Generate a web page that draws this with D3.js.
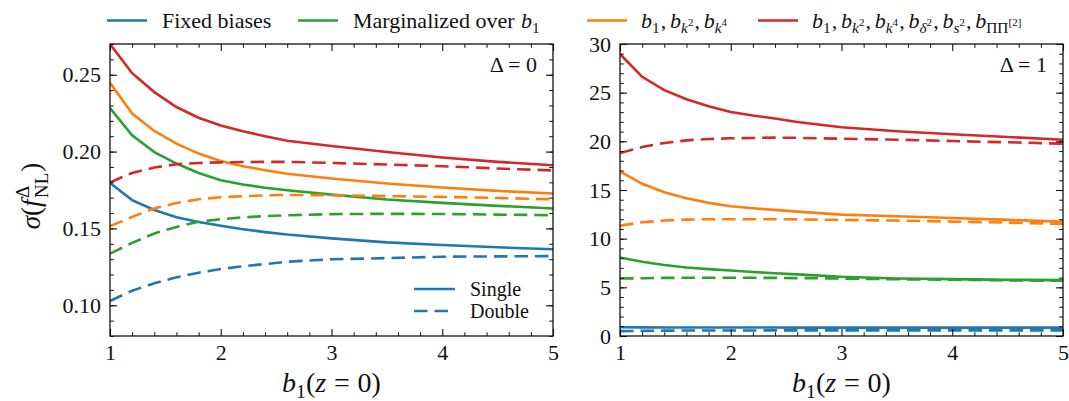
<!DOCTYPE html>
<html>
<head>
<meta charset="utf-8">
<script src="https://cdn.jsdelivr.net/npm/d3@7"></script>
<style>
  body { margin: 0; background: #fff; }
  svg { display: block; }
  svg text { font-family: "Liberation Serif", "DejaVu Serif", "Times New Roman", Times, serif; fill: #111; white-space: pre; }
</style>
</head>
<body>
<div id="chart"></div>
<script>
// b1(z=0) sample points
const b1 = [1, 1.2, 1.4, 1.6, 1.8, 2.0, 2.2, 2.4, 2.6, 3, 3.5, 4, 4.5, 5];

// Delta = 0 panel
const d0FixedSingle   = [0.1796, 0.1684, 0.1620, 0.1572, 0.1542, 0.1517, 0.1495, 0.1476, 0.1460, 0.1435, 0.1409, 0.1392, 0.1377, 0.1364];
const d0FixedDouble   = [0.1028, 0.1095, 0.1143, 0.1182, 0.1212, 0.1236, 0.1254, 0.1268, 0.1283, 0.1299, 0.1307, 0.1316, 0.1318, 0.1320];
const d0MargSingle    = [0.2283, 0.2106, 0.1997, 0.1922, 0.1861, 0.1814, 0.1786, 0.1765, 0.1748, 0.1720, 0.1688, 0.1666, 0.1647, 0.1630];
const d0MargDouble    = [0.1336, 0.1406, 0.1467, 0.1510, 0.1543, 0.1560, 0.1572, 0.1580, 0.1586, 0.1593, 0.1595, 0.1594, 0.1590, 0.1586];
const d0K4Single      = [0.2448, 0.2247, 0.2134, 0.2052, 0.1987, 0.1939, 0.1905, 0.1879, 0.1856, 0.1825, 0.1792, 0.1766, 0.1744, 0.1727];
const d0K4Double      = [0.1515, 0.1575, 0.1630, 0.1665, 0.1690, 0.1703, 0.1710, 0.1715, 0.1718, 0.1716, 0.1710, 0.1705, 0.1698, 0.1690];
const d0AllSingle     = [0.2700, 0.2510, 0.2387, 0.2290, 0.2220, 0.2170, 0.2132, 0.2100, 0.2070, 0.2036, 0.1997, 0.1961, 0.1933, 0.1911];
const d0AllDouble     = [0.1800, 0.1861, 0.1896, 0.1918, 0.1926, 0.1930, 0.1932, 0.1933, 0.1933, 0.1926, 0.1916, 0.1905, 0.1890, 0.1877];

// Delta = 1 panel
const d1FixedSingle   = [0.90, 0.89, 0.88, 0.88, 0.87, 0.87, 0.87, 0.87, 0.86, 0.86, 0.86, 0.86, 0.86, 0.86];
const d1FixedDouble   = [0.50, 0.53, 0.55, 0.56, 0.57, 0.57, 0.57, 0.58, 0.58, 0.58, 0.58, 0.58, 0.58, 0.58];
const d1MargSingle    = [8.07, 7.63, 7.29, 7.04, 6.87, 6.73, 6.58, 6.45, 6.33, 6.08, 5.91, 5.84, 5.77, 5.74];
const d1MargDouble    = [5.90, 5.94, 5.97, 5.98, 5.98, 5.98, 5.98, 5.97, 5.95, 5.90, 5.83, 5.78, 5.72, 5.67];
const d1K4Single      = [16.91, 15.64, 14.77, 14.15, 13.68, 13.33, 13.12, 12.96, 12.78, 12.47, 12.30, 12.13, 11.93, 11.75];
const d1K4Double      = [11.34, 11.68, 11.86, 11.96, 12.00, 12.00, 12.00, 12.00, 11.98, 11.93, 11.86, 11.75, 11.65, 11.52];
const d1AllSingle     = [28.97, 26.63, 25.26, 24.33, 23.60, 23.02, 22.65, 22.34, 21.99, 21.45, 21.03, 20.72, 20.45, 20.17];
const d1AllDouble     = [18.80, 19.41, 19.83, 20.10, 20.24, 20.31, 20.35, 20.38, 20.36, 20.27, 20.17, 20.03, 19.90, 19.76];

const xTicks = [1, 2, 3, 4, 5];
const leftYTicks = [0.10, 0.15, 0.20, 0.25];
const rightYTicks = [0, 5, 10, 15, 20, 25, 30];

const colors = { fixed: "#1f77b4", marg: "#2ca02c", k4: "#ff7f0e", all: "#d62728" };
const SERIF = '"Liberation Serif", "DejaVu Serif", "Times New Roman", Times, serif';
const DASH = "13.5,7";

const W = 1069, H = 401;
const svg = d3.select("#chart").append("svg").attr("width", W).attr("height", H)
  .attr("font-family", SERIF);

// draws a little math-like label out of pieces
function drawMath(parent, x, y, parts, size, anchor) {
  const g = parent.append("g");
  let cx = 0, lastStart = 0;
  parts.forEach(p => {
    const sc = p.sc || 1;
    const start = p.over ? lastStart : cx + (p.gap || 0) * size;
    const t = g.append("text")
      .attr("x", start)
      .attr("y", (p.dy || 0) * size)
      .attr("font-family", SERIF)
      .style("font-size", (size * sc) + "px")
      .style("font-style", p.it ? "italic" : "normal")
      .text(p.t);
    const w = t.node().getComputedTextLength();
    cx = p.over ? Math.max(cx, start + w) : start + w;
    lastStart = start;
  });
  let shift = 0;
  if (anchor === "middle") shift = -cx / 2;
  if (anchor === "end") shift = -cx;
  g.attr("transform", `translate(${x + shift},${y})`);
  return g;
}

const SUB = { sc: 0.7, dy: 0.22 };
const SUBSUP = { sc: 0.5, dy: -0.08 };

function panel(opts) {
  const { left, right, top, bottom, yDomain, yTicks, yMinorStep, fmt, series, label } = opts;
  const x = d3.scaleLinear().domain([1, 5]).range([left, right]);
  const y = d3.scaleLinear().domain(yDomain).range([bottom, top]);
  const g = svg.append("g");

  const clipId = "clip" + left;
  g.append("clipPath").attr("id", clipId)
    .append("rect").attr("x", left).attr("y", top).attr("width", right - left).attr("height", bottom - top);

  const line = d3.line().x((d, i) => x(b1[i])).y(d => y(d));
  series.forEach(s => {
    g.append("path")
      .attr("clip-path", `url(#${clipId})`)
      .attr("d", line(s.values))
      .attr("fill", "none")
      .attr("stroke", s.color)
      .attr("stroke-width", 2.6)
      .attr("stroke-dasharray", s.dashed ? DASH : null);
  });

  const xMinor = d3.range(1, 5.001, 0.2).filter(v => Math.abs(v - Math.round(v)) > 1e-6);
  const yMinor = d3.range(yDomain[0], yDomain[1] + 1e-9, yMinorStep);

  const axes = [
    { make: () => d3.axisBottom(x), tr: `translate(0,${bottom})`, major: xTicks, minor: xMinor, labels: d3.format("d"), pad: 8.5 },
    { make: () => d3.axisTop(x), tr: `translate(0,${top})`, major: xTicks, minor: xMinor, labels: null },
    { make: () => d3.axisLeft(y), tr: `translate(${left},0)`, major: yTicks, minor: yMinor, labels: fmt, pad: 9 },
    { make: () => d3.axisRight(y), tr: `translate(${right},0)`, major: yTicks, minor: yMinor, labels: null }
  ];
  axes.forEach(a => {
    const major = g.append("g").attr("transform", a.tr)
      .call(a.make().tickValues(a.major).tickSize(-7).tickPadding(a.pad || 3)
        .tickFormat(a.labels || (() => "")));
    major.attr("font-family", SERIF).attr("font-size", 22);
    major.select(".domain").remove();
    major.selectAll("line").attr("stroke", "#111").attr("stroke-width", 1.1);
    major.selectAll("text").attr("fill", "#111").attr("font-family", SERIF).style("font-size", "22px");
    const mg = g.append("g").attr("transform", a.tr)
      .call(a.make().tickValues(a.minor).tickSize(-3.8).tickFormat(() => ""));
    mg.select(".domain").remove();
    mg.selectAll("line").attr("stroke", "#111").attr("stroke-width", 1);
  });

  g.append("rect").attr("x", left).attr("y", top).attr("width", right - left).attr("height", bottom - top)
    .attr("fill", "none").attr("stroke", "#111").attr("stroke-width", 1.3);

  // panel annotation
  g.append("text").attr("x", right - 16).attr("y", top + 28).attr("text-anchor", "end")
    .attr("font-family", SERIF).style("font-size", "22px").text(label);

  // x label
  drawMath(g, (left + right) / 2, 392, [
    { t: "b", it: true }, { t: "1", ...SUB }, { t: "(" }, { t: "z", it: true },
    { t: "=", gap: 0.28 }, { t: "0)", gap: 0.28 }
  ], 28, "middle");
  return { x, y };
}

panel({
  left: 110, right: 553, top: 44, bottom: 336,
  yDomain: [0.08, 0.27], yTicks: leftYTicks, yMinorStep: 0.01, fmt: d3.format(".2f"),
  label: "Δ = 0",
  series: [
    { color: colors.fixed, dashed: false, values: d0FixedSingle },
    { color: colors.fixed, dashed: true, values: d0FixedDouble },
    { color: colors.marg, dashed: false, values: d0MargSingle },
    { color: colors.marg, dashed: true, values: d0MargDouble },
    { color: colors.k4, dashed: false, values: d0K4Single },
    { color: colors.k4, dashed: true, values: d0K4Double },
    { color: colors.all, dashed: false, values: d0AllSingle },
    { color: colors.all, dashed: true, values: d0AllDouble }
  ]
});

panel({
  left: 620, right: 1063, top: 44, bottom: 336,
  yDomain: [0, 30], yTicks: rightYTicks, yMinorStep: 1, fmt: d3.format("d"),
  label: "Δ = 1",
  series: [
    { color: colors.fixed, dashed: false, values: d1FixedSingle },
    { color: colors.fixed, dashed: true, values: d1FixedDouble },
    { color: colors.marg, dashed: false, values: d1MargSingle },
    { color: colors.marg, dashed: true, values: d1MargDouble },
    { color: colors.k4, dashed: false, values: d1K4Single },
    { color: colors.k4, dashed: true, values: d1K4Double },
    { color: colors.all, dashed: false, values: d1AllSingle },
    { color: colors.all, dashed: true, values: d1AllDouble }
  ]
});

// y label, rotated
const yl = svg.append("g").attr("transform", "translate(40,196) rotate(-90)");
drawMath(yl, 0, 0, [
  { t: "σ", it: true }, { t: "(" }, { t: "f", it: true },
  { t: "Δ", sc: 0.7, dy: -0.42, gap: 0.06 }, { t: "NL", sc: 0.7, dy: 0.28, over: true },
  { t: ")", gap: 0.04 }
], 27, "middle");

// top legend
const comma = { t: "," , gap: 0.05 };
const B = { t: "b", it: true, gap: 0.17 };
const legendItems = [
  { x0: 107, tx: 162, color: colors.fixed, parts: [{ t: "Fixed biases" }] },
  { x0: 298, tx: 353, color: colors.marg, parts: [{ t: "Marginalized over" }, { t: "b", it: true, gap: 0.3 }, { t: "1", ...SUB }] },
  { x0: 587, tx: 641, color: colors.k4, parts: [
    { t: "b", it: true }, { t: "1", ...SUB }, comma,
    B, { t: "k", it: true, ...SUB }, { t: "2", ...SUBSUP }, comma,
    B, { t: "k", it: true, ...SUB }, { t: "4", ...SUBSUP }] },
  { x0: 758, tx: 812, color: colors.all, parts: [
    { t: "b", it: true }, { t: "1", ...SUB }, comma,
    B, { t: "k", it: true, ...SUB }, { t: "2", ...SUBSUP }, comma,
    B, { t: "k", it: true, ...SUB }, { t: "4", ...SUBSUP }, comma,
    B, { t: "δ", it: true, ...SUB }, { t: "2", ...SUBSUP }, comma,
    B, { t: "s", it: true, ...SUB }, { t: "2", ...SUBSUP }, comma,
    B, { t: "ΠΠ", ...SUB }, { t: "[2]", ...SUBSUP }] }
];
legendItems.forEach(it => {
  svg.append("line").attr("x1", it.x0).attr("x2", it.x0 + 40).attr("y1", 20.5).attr("y2", 20.5)
    .attr("stroke", it.color).attr("stroke-width", 2.6);
  drawMath(svg, it.tx, 28, it.parts, 22, "start");
});

// inner legend (line styles)
[["Single", null, 289, 296], ["Double", DASH, 311, 318]].forEach(([lab, dash, ly, ty]) => {
  svg.append("line").attr("x1", 414).attr("x2", 455).attr("y1", ly).attr("y2", ly)
    .attr("stroke", colors.fixed).attr("stroke-width", 2.6).attr("stroke-dasharray", dash);
  svg.append("text").attr("x", 470).attr("y", ty).attr("font-family", SERIF)
    .style("font-size", "20px").text(lab);
});
</script>
</body>
</html>
